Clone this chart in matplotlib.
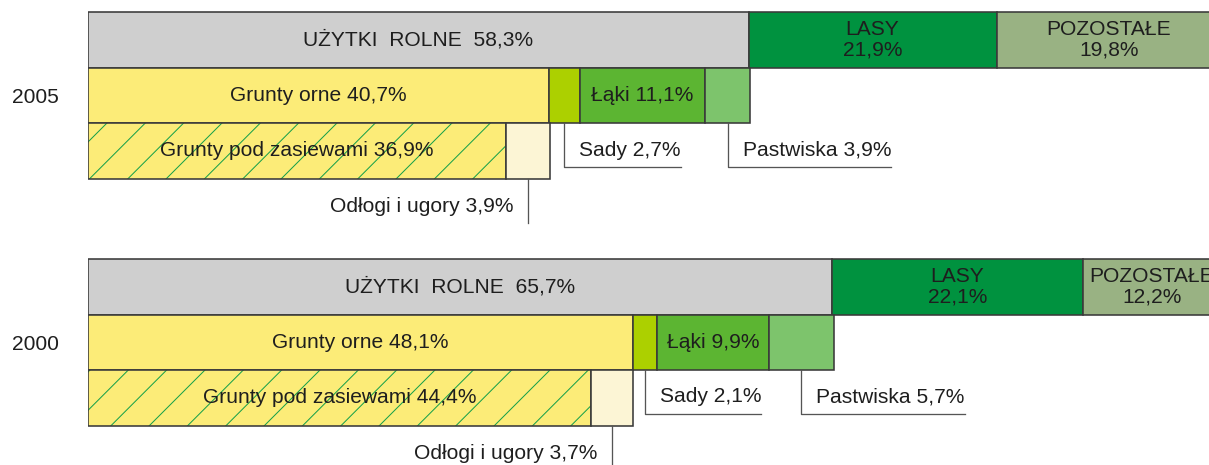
#!/usr/bin/env python3
"""
Struktura użytkowania gruntów 2005 / 2000
"""

import matplotlib
matplotlib.use('Agg')
import matplotlib.pyplot as plt

# dane (%)
years = ['2005', '2000']
uzytki_rolne = [58.3, 65.7]
lasy = [21.9, 22.1]
pozostale = [19.8, 12.2]
grunty_orne = [40.7, 48.1]
sady = [2.7, 2.1]
laki = [11.1, 9.9]
pastwiska = [3.9, 5.7]
zasiewy = [36.9, 44.4]
odlogi = [3.9, 3.7]

DPI = 230
W, H = 1209, 465
PX_PER_PCT = 11.33        # szerokość 1% w pikselach
LEFT = 88                 # początek słupków (px)


def pt(px):
    return px * 72.0 / DPI


def fmt(v):
    return f"{v:.1f}".replace('.', ',') + '%'


plt.rcParams['font.family'] = ['Liberation Sans', 'DejaVu Sans']
plt.rcParams['hatch.linewidth'] = pt(1.0)

FS = pt(21)
TXT = '#1e1e1e'
EDGE = '#3a3a3a'
LW = pt(1.6)

C_UZ = '#cfcfcf'
C_LASY = '#00923f'
C_POZ = '#99b283'
C_ORNE = '#fcec78'
C_SADY = '#acd000'
C_LAKI = '#5cb532'
C_PAST = '#7dc46c'
C_ODL = '#fcf5d5'
C_HATCH = '#14a04a'

fig = plt.figure(figsize=(W / DPI, H / DPI), dpi=DPI)
ax = fig.add_axes([LEFT / W, 0, 1 - LEFT / W, 1])
ax.set_xlim(0, (W - LEFT) / PX_PER_PCT)
ax.set_ylim(H, 0)
ax.axis('off')

group_top = [12, 259]
row_h = 55.5
dx = 15 / PX_PER_PCT      # odstęp tekstu od linii odnośnika


def bar(y, left, width, color, **kw):
    ax.barh(y, width, left=left, height=row_h, align='edge',
            color=color, edgecolor=EDGE, linewidth=LW, **kw)


callouts = []
for i, year in enumerate(years):
    y1 = group_top[i]
    y2 = y1 + row_h
    y3 = y2 + row_h
    bottom = y3 + row_h

    # wiersz 1
    bar(y1, 0, uzytki_rolne[i], C_UZ)
    bar(y1, uzytki_rolne[i], lasy[i], C_LASY)
    bar(y1, uzytki_rolne[i] + lasy[i], pozostale[i], C_POZ)
    ax.text(uzytki_rolne[i] / 2, y1 + row_h / 2,
            'UŻYTKI  ROLNE  ' + fmt(uzytki_rolne[i]),
            ha='center', va='center', fontsize=FS, color=TXT)
    ax.text(uzytki_rolne[i] + lasy[i] / 2, y1 + row_h / 2,
            'LASY\n' + fmt(lasy[i]), ha='center', va='center',
            fontsize=FS, color=TXT, linespacing=1.05)
    ax.text(uzytki_rolne[i] + lasy[i] + pozostale[i] / 2, y1 + row_h / 2,
            'POZOSTAŁE\n' + fmt(pozostale[i]), ha='center', va='center',
            fontsize=FS, color=TXT, linespacing=1.05)

    # wiersz 2
    x = 0
    bar(y2, x, grunty_orne[i], C_ORNE)
    ax.text(grunty_orne[i] / 2, y2 + row_h / 2, 'Grunty orne ' + fmt(grunty_orne[i]),
            ha='center', va='center', fontsize=FS, color=TXT)
    x += grunty_orne[i]
    bar(y2, x, sady[i], C_SADY)
    sady_c = x + sady[i] / 2
    x += sady[i]
    bar(y2, x, laki[i], C_LAKI)
    ax.text(x + laki[i] / 2, y2 + row_h / 2, 'Łąki ' + fmt(laki[i]),
            ha='center', va='center', fontsize=FS, color=TXT)
    x += laki[i]
    bar(y2, x, pastwiska[i], C_PAST)
    past_c = x + pastwiska[i] / 2

    # wiersz 3 (zasiewy kreskowane)
    ax.barh(y3, zasiewy[i], left=0, height=row_h, align='edge',
            color=C_ORNE, edgecolor=C_HATCH, linewidth=0, hatch='//')
    ax.barh(y3, zasiewy[i], left=0, height=row_h, align='edge',
            fill=False, edgecolor=EDGE, linewidth=LW)
    ax.text(zasiewy[i] / 2, y3 + row_h / 2, 'Grunty pod zasiewami ' + fmt(zasiewy[i]),
            ha='center', va='center', fontsize=FS, color=TXT)
    bar(y3, zasiewy[i], odlogi[i], C_ODL)
    odl_c = zasiewy[i] + odlogi[i] / 2

    # rok
    ax.text(-53 / PX_PER_PCT, y2 + row_h / 2 + 2, year, ha='center', va='center',
            fontsize=FS, color=TXT, clip_on=False)

    # odnośniki: Sady, Pastwiska
    yl = y3 + 44
    for xc, label in [(sady_c, 'Sady ' + fmt(sady[i])),
                      (past_c, 'Pastwiska ' + fmt(pastwiska[i]))]:
        t = ax.text(xc + dx, yl - 17, label, ha='left', va='center',
                    fontsize=FS, color=TXT)
        callouts.append((t, xc, y3, yl))

    # odnośnik: Odłogi
    ax.plot([odl_c, odl_c], [bottom, bottom + 44], color='#555555', lw=pt(1.3))
    ax.text(odl_c - dx, bottom + 28, 'Odłogi i ugory ' + fmt(odlogi[i]),
            ha='right', va='center', fontsize=FS, color=TXT)

# linie poziome do końca tekstu
fig.canvas.draw()
renderer = fig.canvas.get_renderer()
inv = ax.transData.inverted()
for t, xc, ytop, yl in callouts:
    bb = t.get_window_extent(renderer)
    x_end = inv.transform((bb.x1, bb.y0))[0]
    ax.plot([xc, xc, x_end], [ytop, yl, yl], color='#555555', lw=pt(1.3))

fig.savefig('out.png', dpi=DPI)
print("saved out.png")
